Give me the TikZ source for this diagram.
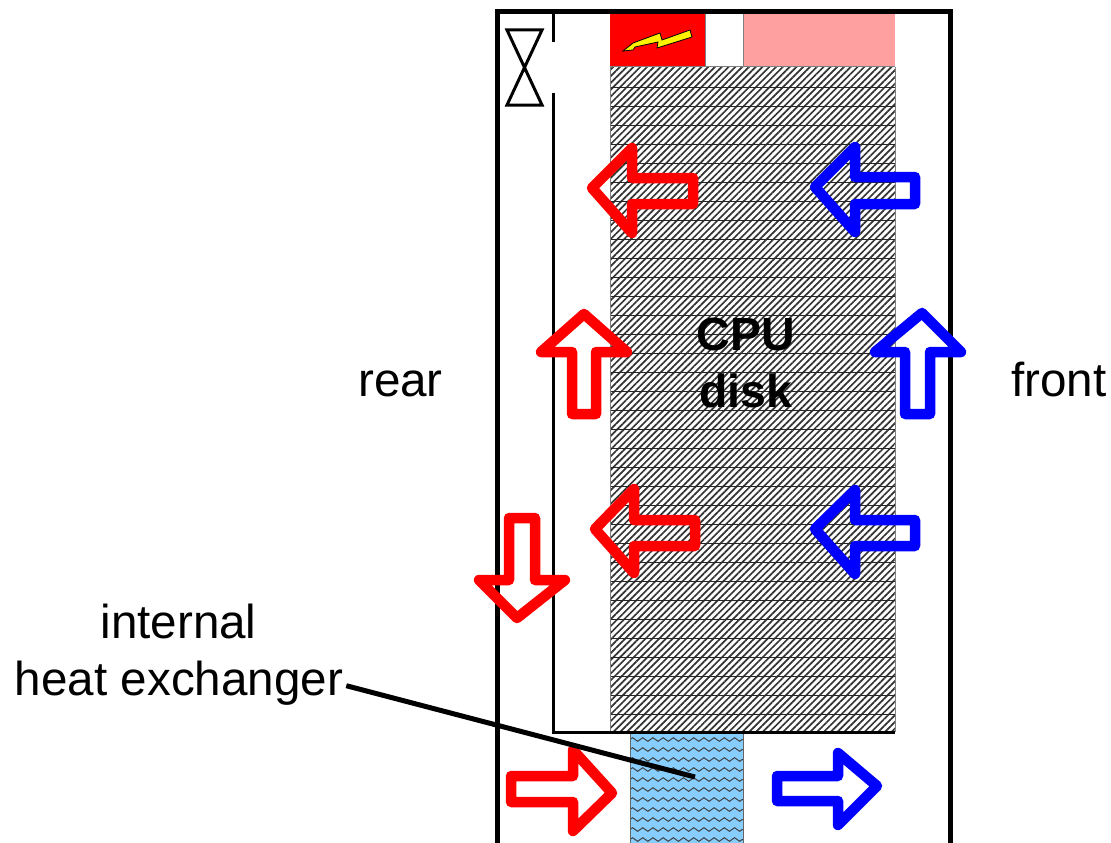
\documentclass[tikz,border=0pt]{standalone}
\usepackage{fontspec}
\setmainfont{Liberation Sans}
\usetikzlibrary{patterns.meta,decorations.pathmorphing}
\definecolor{hotred}{RGB}{255,0,0}
\definecolor{coldblue}{RGB}{0,0,255}
\definecolor{palered}{RGB}{255,160,160}
\definecolor{waterblue}{RGB}{135,206,255}
\tikzset{
	label/.style={anchor=base,inner sep=0pt,font=\fontsize{47.6}{57}\selectfont},
	boldlabel/.style={label,font=\fontsize{46.5}{57}\selectfont\bfseries},
	hotarrow/.style={draw=hotred,line width=10.5pt,line join=round},
	coldarrow/.style={draw=coldblue,line width=10.5pt,line join=round},
	wall/.style={draw=black,line width=3pt},
	frame/.style={draw=black,line width=5pt}
}
\begin{document}
\begin{tikzpicture}[x=1pt,y=-1pt]
	\useasboundingbox (0,0) rectangle (1111,843);
	% top boxes
	\fill[hotred] (610,14) rectangle (705,66);
	\fill[palered] (743,14) rectangle (895,66);
	\draw[gray,line width=.8pt] (705,14) -- (705,66) (743,14) -- (743,66);
	% lightning
	\draw[fill=yellow,line width=.8pt] (623,51) -- (633,43) -- (660,33) -- (662,40) -- (690,30) -- (692,37) -- (657,48) -- (658,42) -- (635,47) -- (633,50) -- cycle;
	% hatched rack
	\fill[white] (610,67) rectangle (895,732);
	\fill[pattern={Lines[angle=45,distance=4.8pt,line width=1.7pt]},pattern color=black!80] (610,67) rectangle (895,732);
	\foreach \k in {0,...,34}{
		\draw[line width=.9pt,black!85] (610,{87+19*\k}) -- (895,{87+19*\k});
	}
	\draw[gray,line width=1pt] (610,67) -- (895,67) (610,67) -- (610,732) (895,67) -- (895,732);
	% heat exchanger
	\fill[waterblue] (630,733) rectangle (743,843);
	\begin{scope}
		\clip (630,733) rectangle (743,843);
		\foreach \k in {0,...,10}{
			\draw[line width=1pt,black!75,decorate,decoration={zigzag,segment length=10.2pt,amplitude=1.8pt}] (630,{739.5+10*\k}) -- (745,{739.5+10*\k});
		}
	\end{scope}
	\draw[black!60,line width=1pt] (630,733) -- (630,843) (743,733) -- (743,843);
	% walls
	\draw[wall] (553,12) -- (553,42) (553,93) -- (553,732) -- (895,732);
	\draw[wall] (507,30) -- (542,30) -- (507,105) -- (542,105) -- cycle;
	\draw[frame] (497,843) -- (497,12) -- (950,12) -- (950,843);
	% arrows
	\draw[hotarrow] (592,188) -- (632,148) -- (632,178) -- (693,178) -- (693,204) -- (632,204) -- (632,233) -- cycle;
	\draw[coldarrow] (815,187) -- (855,147) -- (855,177) -- (915,177) -- (915,204) -- (855,204) -- (855,232) -- cycle;
	\draw[hotarrow] (584,314) -- (627,352) -- (596,352) -- (596,414) -- (572,414) -- (572,352) -- (541,352) -- cycle;
	\draw[coldarrow] (922,313) -- (961,352) -- (930,352) -- (930,414) -- (905,414) -- (905,352) -- (875,352) -- cycle;
	\draw[hotarrow] (595,529) -- (634,489) -- (634,520) -- (695,520) -- (695,546) -- (634,546) -- (634,573) -- cycle;
	\draw[coldarrow] (815,529) -- (855,490) -- (855,520) -- (915,520) -- (915,546) -- (855,546) -- (855,574) -- cycle;
	\draw[hotarrow] (517,618) -- (479,580) -- (509,580) -- (509,518) -- (535,518) -- (535,580) -- (565,580) -- cycle;
	\draw[hotarrow] (612,793) -- (573,750) -- (573,776) -- (511,776) -- (511,802) -- (573,802) -- (573,831) -- cycle;
	\draw[coldarrow] (877,786) -- (838,753) -- (838,776) -- (777,776) -- (777,801) -- (838,801) -- (838,825) -- cycle;
	% labels
	\node[label] (rear) at (400.5,396) {rear};
	\node[label] (front) at (1059,396) {front};
	\node[label] (internal) at (178.5,638) {internal};
	\node[label] (hxlabel) at (179,695) {heat exchanger};
	\node[boldlabel] (cpu) at (746,350) {CPU};
	\node[boldlabel] (disk) at (746,407) {disk};
	\coordinate (hxend) at (695,777);
	\draw[line width=5pt] (hxlabel.east) ++(3,3) -- (hxend);
\end{tikzpicture}
\end{document}
